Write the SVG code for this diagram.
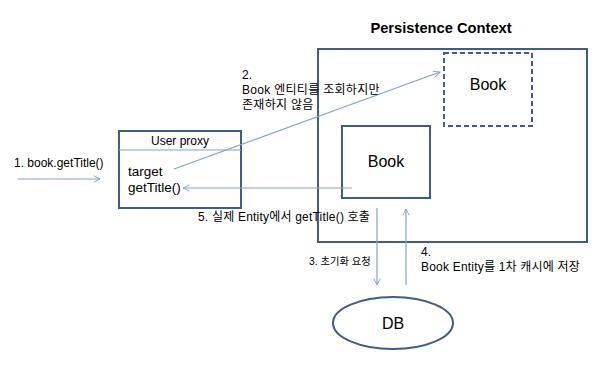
<svg xmlns="http://www.w3.org/2000/svg" width="597" height="366" viewBox="0 0 597 366">
<defs>
<style>
text{font-family:"Liberation Sans","Noto Sans CJK KR",sans-serif;fill:#000}
.t{font-size:12px}
.s{font-size:10.3px}
.box{fill:#fff;stroke:#3B5E8C;stroke-width:2}
.ln{fill:none;stroke:#7FA3D3;stroke-width:1.2}
</style>
<marker id="ah" viewBox="0 0 10 10" refX="9" refY="5" markerWidth="8" markerHeight="8" orient="auto" markerUnits="userSpaceOnUse">
<path d="M1,1 L9,5 L1,9" fill="none" stroke="#7FA3D3" stroke-width="1.2"/>
</marker>
</defs>
<rect width="597" height="366" fill="#fff"/>
<g id="persistence-context">
<rect class="box" x="318" y="49" width="269" height="193"/>
<text x="441" y="33" text-anchor="middle" style="font-size:14.7px;font-weight:bold">Persistence Context</text>
</g>
<g id="book-dashed">
<rect class="box" x="444" y="53" width="88" height="73" stroke-dasharray="5,3"/>
<text x="488" y="90" text-anchor="middle" style="font-size:16px">Book</text>
</g>
<g id="book-entity">
<rect class="box" x="342" y="126" width="88" height="72"/>
<text x="386" y="167" text-anchor="middle" style="font-size:16px">Book</text>
</g>
<g id="user-proxy">
<rect class="box" x="119" y="131" width="122" height="77"/>
<line x1="119" y1="150" x2="241" y2="150" class="ln"/>
<text class="t" x="180" y="145" text-anchor="middle">User proxy</text>
<text x="128" y="176" style="font-size:13.5px">target</text>
<text x="128" y="192" style="font-size:13.5px">getTitle()</text>
</g>
<g id="db">
<ellipse cx="393" cy="323" rx="60" ry="26" fill="#fff" stroke="#3B5E8C" stroke-width="2"/>
<text x="393" y="329" text-anchor="middle" style="font-size:16px">DB</text>
</g>
<g id="connectors">
<line class="ln" x1="18" y1="179" x2="100" y2="179" marker-end="url(#ah)"/>
<line class="ln" x1="174" y1="169" x2="440" y2="72" marker-end="url(#ah)"/>
<line class="ln" x1="352" y1="188" x2="183" y2="188" marker-end="url(#ah)"/>
<line class="ln" x1="377" y1="208" x2="377" y2="285" marker-end="url(#ah)"/>
<line class="ln" x1="406" y1="285" x2="406" y2="209" marker-end="url(#ah)"/>
</g>
<g id="labels">
<text class="t" x="14" y="167">1. book.getTitle()</text>
<text class="t" x="242" y="79">2.</text>
<text class="t" x="242" y="94" letter-spacing="0.3">Book 엔티티를 조회하지만</text>
<text class="t" x="242" y="109" letter-spacing="0.3">존재하지 않음</text>
<text class="s" x="309" y="265">3. 초기화 요청</text>
<text class="t" x="421" y="256">4.</text>
<text class="t" x="421" y="271" letter-spacing="0.2">Book Entity를 1차 캐시에 저장</text>
<text class="t" x="198" y="221" letter-spacing="0.2">5. 실제 Entity에서 getTitle() 호출</text>
</g>
</svg>
